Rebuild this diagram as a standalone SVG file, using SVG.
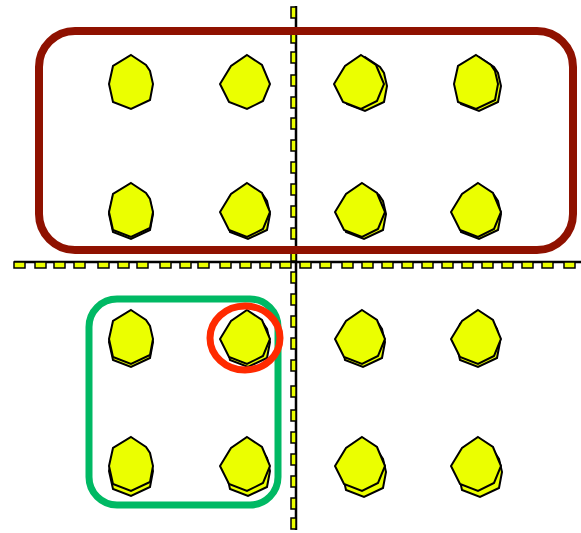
<svg xmlns="http://www.w3.org/2000/svg" xmlns:xlink="http://www.w3.org/1999/xlink" width="581" height="533" viewBox="0 0 581 533">
<style>
.poly{fill:#ebff00;stroke:#000;stroke-width:2;stroke-linejoin:miter}
.mk{fill:#ebff00;stroke:#000;stroke-width:1.5}
.ax{stroke:#000;stroke-width:2.5;fill:none}
</style>
<defs>
<polygon id="pa" class="poly" points="0,-27 15,-17 19,-11 22,2 19,18 0,27 -18,20 -22,2 -18,-16"/>
<polygon id="pb" class="poly" points="2,-27 17,-17 25,2 18,19 2,27 -16,20 -25,2 -14,-16"/>
</defs>
<g id="axes">
<line class="ax" x1="14" y1="262" x2="581" y2="262"/>
<line class="ax" x1="296" y1="6" x2="296" y2="530"/>
<g id="hmarks">
<rect class="mk" x="14" y="262" width="11" height="6"/><rect class="mk" x="35" y="262" width="11" height="6"/><rect class="mk" x="54" y="262" width="11" height="6"/><rect class="mk" x="74" y="262" width="11" height="6"/><rect class="mk" x="98" y="262" width="11" height="6"/><rect class="mk" x="118" y="262" width="11" height="6"/><rect class="mk" x="137" y="262" width="11" height="6"/><rect class="mk" x="160" y="262" width="11" height="6"/><rect class="mk" x="180" y="262" width="11" height="6"/><rect class="mk" x="198" y="262" width="11" height="6"/><rect class="mk" x="220" y="262" width="11" height="6"/><rect class="mk" x="240" y="262" width="11" height="6"/><rect class="mk" x="260" y="262" width="11" height="6"/><rect class="mk" x="280" y="262" width="11" height="6"/>
<rect class="mk" x="300" y="262" width="11" height="6"/><rect class="mk" x="320" y="262" width="11" height="6"/><rect class="mk" x="342" y="262" width="11" height="6"/><rect class="mk" x="362" y="262" width="11" height="6"/><rect class="mk" x="382" y="262" width="11" height="6"/><rect class="mk" x="402" y="262" width="11" height="6"/><rect class="mk" x="422" y="262" width="11" height="6"/><rect class="mk" x="442" y="262" width="11" height="6"/><rect class="mk" x="462" y="262" width="11" height="6"/><rect class="mk" x="482" y="262" width="11" height="6"/><rect class="mk" x="502" y="262" width="11" height="6"/><rect class="mk" x="522" y="262" width="11" height="6"/><rect class="mk" x="542" y="262" width="11" height="6"/><rect class="mk" x="564" y="262" width="11" height="6"/>
</g>
<g id="vmarks">
<rect class="mk" x="291" y="7" width="5" height="11"/><rect class="mk" x="291" y="32" width="5" height="11"/><rect class="mk" x="291" y="52" width="5" height="11"/><rect class="mk" x="291" y="75" width="5" height="11"/><rect class="mk" x="291" y="97" width="5" height="11"/><rect class="mk" x="291" y="118" width="5" height="11"/><rect class="mk" x="291" y="140" width="5" height="11"/><rect class="mk" x="291" y="162" width="5" height="11"/><rect class="mk" x="291" y="184" width="5" height="11"/><rect class="mk" x="291" y="206" width="5" height="11"/><rect class="mk" x="291" y="228" width="5" height="11"/><rect class="mk" x="291" y="250" width="5" height="11"/>
<rect class="mk" x="291" y="272" width="5" height="11"/><rect class="mk" x="291" y="294" width="5" height="11"/><rect class="mk" x="291" y="316" width="5" height="11"/><rect class="mk" x="291" y="338" width="5" height="11"/><rect class="mk" x="291" y="360" width="5" height="11"/><rect class="mk" x="291" y="386" width="5" height="11"/><rect class="mk" x="291" y="410" width="5" height="11"/><rect class="mk" x="291" y="432" width="5" height="11"/><rect class="mk" x="291" y="454" width="5" height="11"/><rect class="mk" x="291" y="476" width="5" height="11"/><rect class="mk" x="291" y="498" width="5" height="11"/><rect class="mk" x="291" y="518" width="5" height="11"/>
</g>
</g>
<rect id="topgroup" x="39" y="31" width="534" height="219" rx="36" fill="none" stroke="#8f1100" stroke-width="8"/>
<rect id="greengroup" x="89" y="299" width="189" height="206" rx="28" fill="none" stroke="#00b964" stroke-width="7"/>
<g id="n11"><use href="#pa" x="131" y="82"/></g>
<g id="n12"><use href="#pb" x="245" y="82"/></g>
<g id="n13"><use href="#pa" x="365" y="84"/><use href="#pb" x="359" y="82"/></g>
<g id="n14"><use href="#pa" x="479" y="84"/><use href="#pa" x="476" y="82"/></g>
<g id="n21"><use href="#pa" x="131" y="212"/><use href="#pa" x="131" y="210"/></g>
<g id="n22"><use href="#pa" x="248" y="212"/><use href="#pb" x="245" y="210"/></g>
<g id="n23"><use href="#pa" x="364" y="212"/><use href="#pb" x="360" y="210"/></g>
<g id="n24"><use href="#pa" x="479" y="212"/><use href="#pb" x="476" y="210"/></g>
<g id="n31"><use href="#pa" x="131" y="340"/><use href="#pa" x="131" y="337"/></g>
<g id="n32"><use href="#pa" x="248" y="340"/><use href="#pb" x="245" y="337"/></g>
<g id="n33"><use href="#pa" x="363" y="340"/><use href="#pb" x="360" y="337"/></g>
<g id="n34"><use href="#pa" x="478" y="340"/><use href="#pb" x="476" y="337"/></g>
<g id="n41"><use href="#pa" x="131" y="469"/><use href="#pa" x="131" y="464"/></g>
<g id="n42"><use href="#pa" x="248" y="469"/><use href="#pb" x="245" y="464"/></g>
<g id="n43"><use href="#pa" x="364" y="470"/><use href="#pb" x="360" y="464"/></g>
<g id="n44"><use href="#pa" x="480" y="470"/><use href="#pb" x="476" y="464"/></g>
<ellipse id="highlight" cx="245" cy="338" rx="35" ry="32" fill="none" stroke="#ff2a00" stroke-width="7"/>
</svg>
